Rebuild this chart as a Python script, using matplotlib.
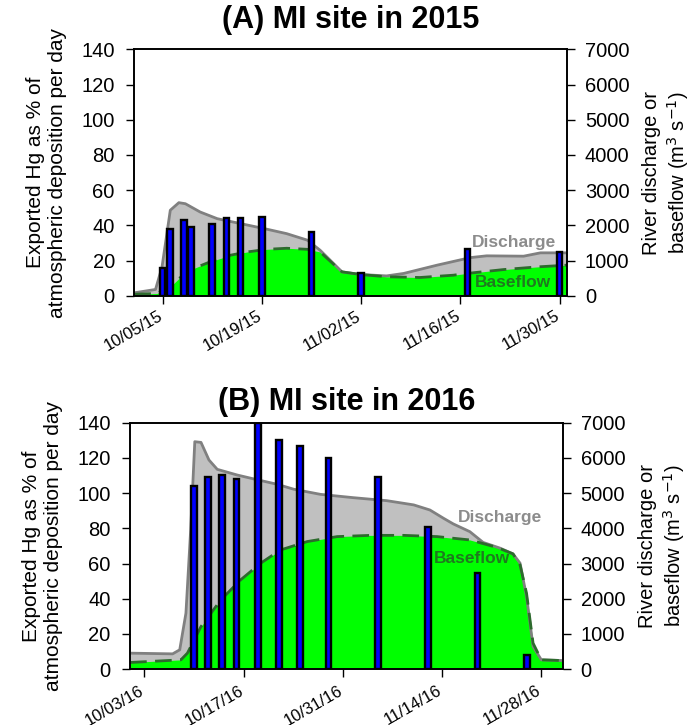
"""Exported Hg vs. river discharge and baseflow at the MI site, 2015 and 2016."""

import matplotlib
matplotlib.use("Agg")
import matplotlib.pyplot as plt
import matplotlib.dates as mdates
import matplotlib.transforms as mtransforms
import pandas as pd

plt.rcParams["font.family"] = ["Liberation Sans", "DejaVu Sans"]

# ---- 2015 ----
q15_dates = ["2015-10-01", "2015-10-04", "2015-10-04 22:00", "2015-10-06 02:00",
             "2015-10-07 07:00", "2015-10-08 05:00", "2015-10-10 07:00",
             "2015-10-12 17:00", "2015-10-16", "2015-10-19 07:00", "2015-10-22 12:00",
             "2015-10-25 10:00", "2015-10-27 05:00", "2015-10-30 07:00",
             "2015-11-01 22:00", "2015-11-05 14:00", "2015-11-08", "2015-11-12 17:00",
             "2015-11-17 10:00", "2015-11-19 17:00", "2015-11-24 22:00",
             "2015-11-27 07:00", "2015-12-01"]
q15 = [85, 180, 820, 2430, 2645, 2615, 2380, 2190, 2050, 1910, 1765, 1580, 1295,
       680, 605, 565, 635, 870, 1085, 1135, 1125, 1220, 1220]

b15_dates = ["2015-10-01", "2015-10-04 05:00", "2015-10-06 02:00", "2015-10-07 07:00",
             "2015-10-09 09:00", "2015-10-11 17:00", "2015-10-14 12:00",
             "2015-10-16 22:00", "2015-10-19 17:00", "2015-10-22 12:00",
             "2015-10-25 10:00", "2015-10-27 05:00", "2015-10-30 07:00",
             "2015-11-01 22:00", "2015-11-05 14:00", "2015-11-10 07:00", "2015-11-15",
             "2015-11-16 22:00", "2015-11-22 02:00", "2015-11-26 19:00", "2015-12-01"]
b15 = [45, 65, 255, 490, 775, 965, 1150, 1245, 1320, 1350, 1320, 1245, 680, 605,
       540, 520, 585, 635, 745, 820, 870]

hg15_dates = ["2015-10-05", "2015-10-06", "2015-10-08", "2015-10-09", "2015-10-12",
              "2015-10-14", "2015-10-16", "2015-10-19", "2015-10-26", "2015-11-02",
              "2015-11-17", "2015-11-30"]
hg15 = [16, 38, 43, 39, 41, 44, 44, 45, 36, 13, 26.5, 25]

ticks15 = ["2015-10-05", "2015-10-19", "2015-11-02", "2015-11-16", "2015-11-30"]

# ---- 2016 ----
q16_dates = ["2016-10-01", "2016-10-07", "2016-10-08", "2016-10-08 21:00",
             "2016-10-09 13:00", "2016-10-10 03:00", "2016-10-11", "2016-10-12 03:00",
             "2016-10-13 07:00", "2016-10-16 02:00", "2016-10-18 12:00",
             "2016-10-21 18:00", "2016-10-24 02:00", "2016-10-27 20:00",
             "2016-11-01 12:00", "2016-11-06 05:00", "2016-11-10", "2016-11-12 07:00",
             "2016-11-14 05:00", "2016-11-15 14:00", "2016-11-17 22:00",
             "2016-11-19 19:00", "2016-11-22 05:00", "2016-11-24", "2016-11-25",
             "2016-11-25 22:00", "2016-11-26 20:00", "2016-11-28", "2016-12-01"]
q16 = [455, 435, 550, 1590, 3950, 6460, 6440, 5940, 5675, 5515, 5400, 5250, 5110,
       4965, 4870, 4785, 4665, 4520, 4285, 4125, 3905, 3600, 3435, 3275, 3010, 2060,
       645, 265, 245]

b16_dates = ["2016-10-01", "2016-10-08 04:00", "2016-10-09 02:00", "2016-10-11",
             "2016-10-13 19:00", "2016-10-16 14:00", "2016-10-19 10:00",
             "2016-10-22 05:00", "2016-10-26", "2016-10-30 05:00", "2016-11-03 22:00",
             "2016-11-08 14:00", "2016-11-13 07:00", "2016-11-17 22:00",
             "2016-11-21 17:00", "2016-11-24", "2016-11-25", "2016-11-25 22:00",
             "2016-11-26 20:00", "2016-11-28", "2016-12-01"]
b16 = [190, 265, 455, 1210, 1965, 2535, 3010, 3385, 3625, 3765, 3800, 3800, 3765,
       3670, 3460, 3275, 2960, 2155, 740, 265, 245]

hg16_dates = ["2016-10-10", "2016-10-12", "2016-10-14", "2016-10-16", "2016-10-19",
              "2016-10-22", "2016-10-25", "2016-10-29", "2016-11-05", "2016-11-12",
              "2016-11-19", "2016-11-26"]
hg16 = [104, 109, 110, 108, 140, 130, 127, 120, 109, 80.5, 54.5, 8]

ticks16 = ["2016-10-03", "2016-10-17", "2016-10-31", "2016-11-14", "2016-11-28"]


def to_dt(values):
    return pd.to_datetime(values, format="ISO8601")


def draw_panel(fig, rect, title, title_pad, date_pad, q_dates, q, b_dates, b,
               hg_dates, hg, ticks, xlim, disch_xy, base_xy):
    ax = fig.add_axes(rect)
    ax2 = ax.twinx()
    # bars on top of the flow areas
    ax.set_zorder(ax2.get_zorder() + 1)
    ax.patch.set_visible(False)

    qd = to_dt(q_dates)
    bd = to_dt(b_dates)
    ax2.fill_between(qd, q, color="#c0c0c0", lw=0)
    ax2.plot(qd, q, color="#808080", lw=2)
    ax2.fill_between(bd, b, color="#00ff00", lw=0)
    ax2.plot(bd, b, color="#2d6a2d", lw=2, ls=(0, (6, 3)))

    ax.bar(to_dt(hg_dates), hg, width=0.8, color="#0000ff",
           edgecolor="black", linewidth=1.7, zorder=3)

    ax.set_xlim(pd.Timestamp(xlim[0]), pd.Timestamp(xlim[1]))
    ax.set_ylim(0, 140)
    ax2.set_ylim(0, 7000)
    ax.set_yticks(range(0, 141, 20))
    ax2.set_yticks(range(0, 7001, 1000))

    ax.set_xticks(to_dt(ticks))
    ax.xaxis.set_major_formatter(mdates.DateFormatter("%m/%d/%y"))
    ax.tick_params(axis="x", length=6, width=1, pad=date_pad, labelsize=12)
    for lab in ax.get_xticklabels():
        lab.set_rotation(30)
        lab.set_ha("right")
        lab.set_rotation_mode("anchor")

    ax.tick_params(axis="y", labelsize=14.5, length=6, width=1, pad=8)
    ax2.tick_params(axis="y", labelsize=14.5, length=6, width=1, pad=7)
    for a in (ax, ax2):
        for s in a.spines.values():
            s.set_linewidth(1.2)

    ax.set_ylabel("Exported Hg as % of\natmospheric deposition per day",
                  fontsize=15, labelpad=10)
    ax2.set_ylabel("River discharge or\nbaseflow (m$^3$ s$^{-1}$)",
                   fontsize=14.5, labelpad=9)
    ax.set_title(title, fontsize=22, fontweight="bold", pad=title_pad)

    ax.text(*disch_xy, "Discharge", transform=ax.transAxes, color="#8c8c8c",
            fontsize=12.5, fontweight="bold", ha="center", va="center", zorder=4)
    ax.text(*base_xy, "Baseflow", transform=ax.transAxes, color="#1f7a1f",
            fontsize=12.5, fontweight="bold", ha="center", va="center", zorder=4)
    return ax


fig = plt.figure(figsize=(6.92, 7.25), dpi=100)

ax_a = draw_panel(fig, [0.194, 0.592, 0.625, 0.340], "(A) MI site in 2015", 15, 3,
                  q15_dates, q15, b15_dates, b15, hg15_dates, hg15, ticks15,
                  ("2015-10-01", "2015-12-01"), (0.878, 0.215), (0.876, 0.053))

ax_b = draw_panel(fig, [0.188, 0.077, 0.625, 0.340], "(B) MI site in 2016", 9, 4,
                  q16_dates, q16, b16_dates, b16, hg16_dates, hg16, ticks16,
                  ("2016-10-01", "2016-12-01"), (0.855, 0.616), (0.79, 0.447))

# nudge the slanted date labels a little to the left of their ticks
fig.canvas.draw()
shift = mtransforms.ScaledTranslation(-0.05, 0, fig.dpi_scale_trans)
for a in (ax_a, ax_b):
    for lab in a.get_xticklabels():
        lab.set_transform(lab.get_transform() + shift)

fig.savefig("out.png", dpi=100)
